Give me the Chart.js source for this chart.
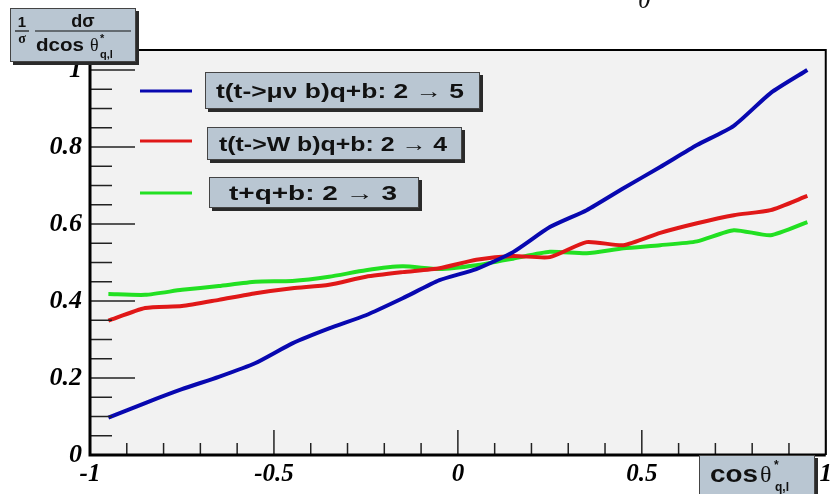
<!DOCTYPE html>
<html>
<head>
<meta charset="utf-8">
<script src="https://cdn.jsdelivr.net/npm/chart.js@4"></script>
<style>
  html, body { margin: 0; padding: 0; background: #fff; }
  canvas { display: block; }
</style>
</head>
<body>
<canvas id="myChart" width="837" height="494"></canvas>
<script>
// bin centres of cos(theta*) and the three normalised distributions
const xCenters = [-0.95, -0.85, -0.75, -0.65, -0.55, -0.45, -0.35, -0.25, -0.15, -0.05,
                  0.05, 0.15, 0.25, 0.35, 0.45, 0.55, 0.65, 0.75, 0.85, 0.95];
const muNuB = [0.097, 0.135, 0.171, 0.203, 0.239, 0.29, 0.329, 0.363, 0.407, 0.454,
               0.483, 0.527, 0.592, 0.636, 0.693, 0.748, 0.805, 0.855, 0.94, 1.0];
const wB = [0.349, 0.382, 0.387, 0.403, 0.42, 0.433, 0.442, 0.463, 0.475, 0.485,
            0.507, 0.517, 0.514, 0.553, 0.545, 0.577, 0.602, 0.623, 0.636, 0.673];
const tqb = [0.418, 0.416, 0.429, 0.439, 0.45, 0.452, 0.463, 0.48, 0.49, 0.483,
             0.493, 0.51, 0.528, 0.524, 0.537, 0.545, 0.555, 0.584, 0.571, 0.605];
const seriesLabels = ['t(t->\u03bc\u03bd b)q+b: 2 \u2192 5', 't(t->W b)q+b: 2 \u2192 4', 't+q+b: 2 \u2192 3'];
const seriesColors = ['#0808b0', '#e01818', '#22e022'];
const xTickLabels = [-1, -0.5, 0, 0.5, 1];
const yTickLabels = [0, 0.2, 0.4, 0.6, 0.8, 1];

function pts(ys) {
  return xCenters.map((x, i) => ({x: x, y: ys[i]}));
}

const boxFill = '#b9c6d2';

function drawBox(ctx, x, y, w, h) {
  ctx.fillStyle = '#2a2a2a';
  ctx.fillRect(x + 3, y + 3, w, h);
  ctx.fillStyle = boxFill;
  ctx.fillRect(x, y, w, h);
  ctx.strokeStyle = '#444';
  ctx.lineWidth = 1;
  ctx.strokeRect(x + 0.5, y + 0.5, w - 1, h - 1);
}

// draw text stretched sideways so it fills a given width
function fillStretched(ctx, text, left, baseline, width) {
  const w = ctx.measureText(text).width;
  ctx.save();
  ctx.translate(left, baseline);
  ctx.scale(width / w, 1);
  ctx.textAlign = 'left';
  ctx.fillText(text, 0, 0);
  ctx.restore();
}

const framePlugin = {
  id: 'frame',
  beforeDraw(chart) {
    const {ctx, chartArea: a} = chart;
    ctx.save();
    ctx.fillStyle = '#f2f2f2';
    ctx.fillRect(a.left, a.top, a.right - a.left, a.bottom - a.top);
    ctx.restore();
  },
  afterDatasetsDraw(chart) {
    const {ctx, chartArea: a, scales} = chart;
    const xs = scales.x, ys = scales.y;
    ctx.save();
    ctx.strokeStyle = '#222';
    ctx.lineWidth = 1.5;
    // x ticks, pointing up
    for (let k = -10; k <= 10; k++) {
      const v = k / 10;
      const px = xs.getPixelForValue(v);
      const len = (k % 5 === 0) ? 25 : 12;
      ctx.beginPath();
      ctx.moveTo(px, a.bottom);
      ctx.lineTo(px, a.bottom - len);
      ctx.stroke();
    }
    // y ticks, pointing right
    for (let k = 0; k <= 21; k++) {
      const v = k * 0.05;
      const py = ys.getPixelForValue(v);
      const len = (k % 4 === 0) ? 45 : 22;
      ctx.beginPath();
      ctx.moveTo(a.left, py);
      ctx.lineTo(a.left + len, py);
      ctx.stroke();
    }
    // frame
    ctx.strokeStyle = '#000';
    ctx.lineWidth = 2;
    ctx.beginPath();
    ctx.moveTo(a.left, a.top);
    ctx.lineTo(a.right, a.top);
    ctx.lineTo(a.right, a.bottom);
    ctx.stroke();
    ctx.lineWidth = 3;
    ctx.beginPath();
    ctx.moveTo(a.left, a.top);
    ctx.lineTo(a.left, a.bottom);
    ctx.lineTo(a.right, a.bottom);
    ctx.stroke();
    ctx.restore();
  },
  afterDraw(chart) {
    const ctx = chart.ctx;
    ctx.save();
    // legend
    const boxes = [[205, 72, 275, 37], [207, 127, 255, 33], [209, 177, 210, 31]];
    const textPos = [[216, 248], [219, 228], [229, 168]];
    const lineY = [91, 141, 193];
    chart.data.datasets.forEach((ds, i) => {
      ctx.strokeStyle = ds.borderColor;
      ctx.lineWidth = 3;
      ctx.beginPath();
      ctx.moveTo(140, lineY[i]);
      ctx.lineTo(192, lineY[i]);
      ctx.stroke();
      const b = boxes[i];
      drawBox(ctx, b[0], b[1], b[2], b[3]);
      ctx.fillStyle = '#111';
      ctx.font = 'bold 20px "Liberation Sans"';
      ctx.textBaseline = 'alphabetic';
      fillStretched(ctx, ds.label, textPos[i][0], b[1] + b[3] / 2 + 7, textPos[i][1]);
    });

    // y axis title box
    drawBox(ctx, 10, 8, 126, 54);
    ctx.fillStyle = '#111';
    ctx.strokeStyle = '#111';
    ctx.textAlign = 'center';
    ctx.textBaseline = 'alphabetic';
    ctx.font = 'bold 15px "Liberation Sans"';
    ctx.fillText('1', 22, 27);
    ctx.font = 'bold 14px "Liberation Serif"';
    ctx.fillText('\u03c3', 22, 43);
    ctx.lineWidth = 1.2;
    ctx.beginPath(); ctx.moveTo(15, 31); ctx.lineTo(29, 31); ctx.stroke();
    ctx.beginPath(); ctx.moveTo(35, 31); ctx.lineTo(131, 31); ctx.stroke();
    ctx.font = 'bold 18px "Liberation Sans"';
    ctx.fillText('d\u03c3', 83, 27);
    ctx.textAlign = 'left';
    fillStretched(ctx, 'dcos', 36, 51, 48);
    ctx.font = '18px "Liberation Serif"';
    ctx.fillText('\u03b8', 90, 51);
    ctx.font = 'bold 11px "Liberation Sans"';
    ctx.fillText('*', 100, 42);
    ctx.fillText('q,l', 100, 58);

    // x axis title box
    drawBox(ctx, 699, 455, 116, 42);
    ctx.fillStyle = '#111';
    ctx.font = 'bold 24px "Liberation Sans"';
    fillStretched(ctx, 'cos', 710, 482, 48);
    ctx.font = '24px "Liberation Serif"';
    ctx.fillText('\u03b8', 760, 482);
    ctx.font = 'bold 12px "Liberation Sans"';
    ctx.fillText('*', 774, 469);
    ctx.fillText('q,l', 775, 491);

    // stray symbol cut at the top edge
    ctx.font = 'italic 26px "Liberation Serif"';
    ctx.fillText('\u03b8', 638, 8);
    ctx.restore();
  }
};

const myChartData = {
  datasets: seriesLabels.map((lab, i) => ({
    label: lab,
    data: pts([muNuB, wB, tqb][i]),
    borderColor: seriesColors[i],
    borderWidth: 4,
    pointRadius: 0,
    tension: 0.2,
    fill: false
  }))
};

const myDataOptions = {
  responsive: false,
  animation: false,
  layout: {padding: {left: 0, right: 7, top: 50, bottom: 0}},
  plugins: {legend: {display: false}, tooltip: {enabled: false}},
  scales: {
    x: {
      type: 'linear',
      min: -1, max: 1,
      grid: {display: false, drawTicks: false},
      border: {display: false},
      afterBuildTicks: s => { s.ticks = xTickLabels.map(v => ({value: v})); },
      afterFit: s => { s.height = 39; },
      ticks: {
        padding: 5,
        color: '#000',
        font: {family: 'Liberation Serif', style: 'italic', weight: 'bold', size: 25},
        callback: v => String(Math.round(v * 10) / 10),
        maxRotation: 0,
        autoSkip: false
      }
    },
    y: {
      min: 0, max: 1.052,
      grid: {display: false, drawTicks: false},
      border: {display: false},
      afterBuildTicks: s => { s.ticks = yTickLabels.map(v => ({value: v})); },
      afterFit: s => { s.width = 90; },
      ticks: {
        padding: 8,
        color: '#000',
        font: {family: 'Liberation Serif', style: 'italic', weight: 'bold', size: 26},
        callback: v => String(Math.round(v * 10) / 10)
      }
    }
  }
};

const ctx = document.getElementById('myChart');
const DistChart = new Chart(ctx, {
  type: 'line',
  data: myChartData,
  options: myDataOptions,
  plugins: [framePlugin]
});
</script>
</body>
</html>
